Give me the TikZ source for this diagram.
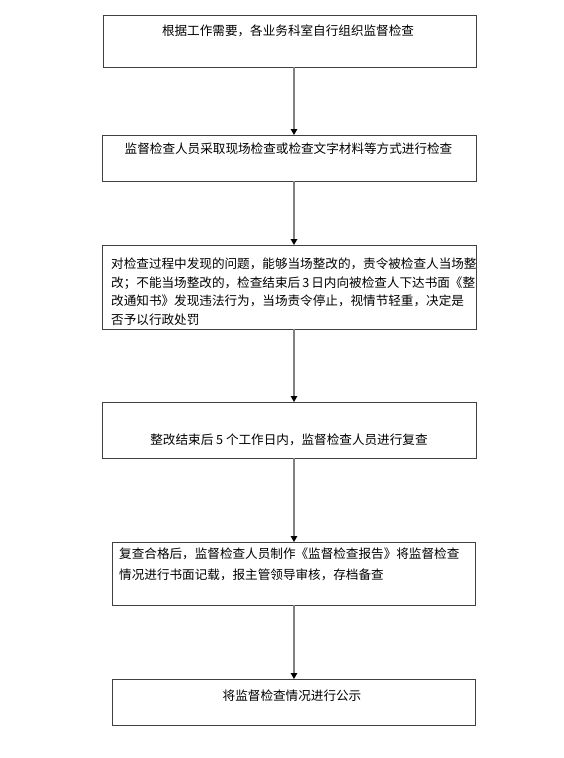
\documentclass[tikz,border=0pt]{standalone}
\usepackage{fontspec}
\newfontfamily\cjk{Noto Sans CJK SC}
\usetikzlibrary{arrows.meta}
\begin{document}
\begin{tikzpicture}[x=1pt,y={(0pt,-1pt)},
  stepbox/.style={draw=black!75, line width=1pt, inner sep=0pt, outer sep=0pt, rectangle},
  txt/.style={inner sep=0pt, font=\cjk\fontsize{12.6pt}{18.5pt}\selectfont, text=black},
  flow/.style={draw=black!50, line width=1.3pt, -{Triangle[width=6.5pt,length=6pt,color=black,fill=black]}}]
\useasboundingbox[fill=white] (0,0) rectangle (563,758);
\coordinate (ax) at (294,0);
% boxes
\node[stepbox, minimum width=373pt, minimum height=52pt] (b1) at (289.5,41) {};
\node[stepbox, minimum width=374pt, minimum height=46pt] (b2) at (289,158) {};
\node[stepbox, minimum width=374pt, minimum height=84pt] (b3) at (289,287) {};
\node[stepbox, minimum width=374pt, minimum height=56pt] (b4) at (289,430) {};
\node[stepbox, minimum width=363pt, minimum height=63pt] (b5) at (293.5,573.5) {};
\node[stepbox, minimum width=363pt, minimum height=46pt] (b6) at (293.5,702) {};
% texts
\node[txt] (t1) at (288,31) {根据工作需要，各业务科室自行组织监督检查};
\node[txt] (t2) at (288.5,149) {监督检查人员采取现场检查或检查文字材料等方式进行检查};
\node[txt, anchor=north west, text width=362pt, align=left] (t3) at (111,258)
  {对检查过程中发现的问题，能够当场整改的，责令被检查人当场整\\
   改；不能当场整改的，检查结束后\,3\,日内向被检查人下达书面《整\\
   改通知书》发现违法行为，当场责令停止，视情节轻重，决定是\\
   否予以行政处罚};
\node[txt] (t4) at (289,440) {整改结束后~5~个工作日内，监督检查人员进行复查};
\node[txt, anchor=north west, text width=355pt, align=left, font=\cjk\fontsize{12.6pt}{21pt}\selectfont] (t5) at (119,548)
  {复查合格后，监督检查人员制作《监督检查报告》将监督检查\\
   情况进行书面记载，报主管领导审核，存档备查};
\node[txt] (t6) at (292,696) {将监督检查情况进行公示};
% connectors
\draw[flow] (b1.south -| ax) -- (b2.north -| ax);
\draw[flow] (b2.south -| ax) -- (b3.north -| ax);
\draw[flow] (b3.south -| ax) -- (b4.north -| ax);
\draw[flow] (b4.south -| ax) -- (b5.north -| ax);
\draw[flow] (b5.south -| ax) -- (b6.north -| ax);
\end{tikzpicture}
\end{document}
